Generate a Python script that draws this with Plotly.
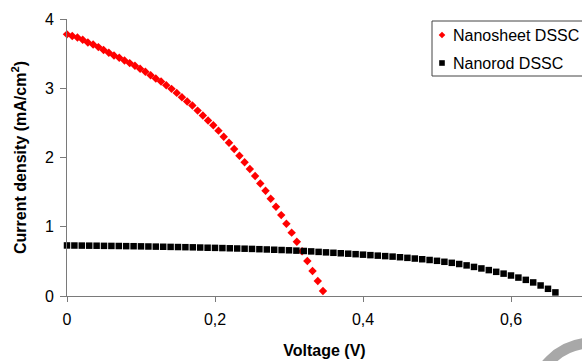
import plotly.graph_objects as go

# ---------------- data ----------------
nanosheet_voltage = [
    0.0000, 0.0071, 0.0141, 0.0212, 0.0282, 0.0353, 0.0424, 0.0494, 0.0565, 0.0635,
    0.0706, 0.0777, 0.0847, 0.0918, 0.0988, 0.1059, 0.1130, 0.1200, 0.1271, 0.1341,
    0.1412, 0.1483, 0.1553, 0.1624, 0.1694, 0.1765, 0.1836, 0.1906, 0.1977, 0.2047,
    0.2118, 0.2189, 0.2259, 0.2330, 0.2400, 0.2471, 0.2542, 0.2612, 0.2683, 0.2753,
    0.2824, 0.2895, 0.2965, 0.3036, 0.3106, 0.3177, 0.3248, 0.3318, 0.3389, 0.3459,
]
nanosheet_current = [
    3.778, 3.753, 3.734, 3.700, 3.662, 3.633, 3.594, 3.551, 3.512, 3.474,
    3.440, 3.401, 3.363, 3.324, 3.281, 3.237, 3.189, 3.141, 3.097, 3.044,
    2.991, 2.933, 2.871, 2.808, 2.750, 2.677, 2.605, 2.533, 2.466, 2.388,
    2.301, 2.214, 2.123, 2.026, 1.930, 1.834, 1.732, 1.626, 1.520, 1.404,
    1.288, 1.168, 1.044, 0.915, 0.782, 0.645, 0.505, 0.362, 0.218, 0.072,
]

nanorod_voltage = [
    0.00, 0.01, 0.02, 0.03, 0.04, 0.05, 0.06, 0.07, 0.08, 0.09,
    0.10, 0.11, 0.12, 0.13, 0.14, 0.15, 0.16, 0.17, 0.18, 0.19,
    0.20, 0.21, 0.22, 0.23, 0.24, 0.25, 0.26, 0.27, 0.28, 0.29,
    0.30, 0.31, 0.32, 0.33, 0.34, 0.35, 0.36, 0.37, 0.38, 0.39,
    0.40, 0.41, 0.42, 0.43, 0.44, 0.45, 0.46, 0.47, 0.48, 0.49,
    0.50, 0.51, 0.52, 0.53, 0.54, 0.55, 0.56, 0.57, 0.58, 0.59,
    0.60, 0.61, 0.62, 0.63, 0.64, 0.65, 0.66,
]
nanorod_current = [
    0.730, 0.729, 0.728, 0.727, 0.726, 0.724, 0.723, 0.722, 0.720, 0.719,
    0.717, 0.715, 0.713, 0.711, 0.709, 0.707, 0.705, 0.703, 0.700, 0.697,
    0.695, 0.692, 0.689, 0.686, 0.683, 0.680, 0.676, 0.672, 0.668, 0.664,
    0.660, 0.655, 0.650, 0.644, 0.637, 0.630, 0.624, 0.617, 0.611, 0.604,
    0.597, 0.590, 0.583, 0.576, 0.569, 0.560, 0.551, 0.541, 0.531, 0.520,
    0.508, 0.494, 0.479, 0.462, 0.442, 0.420, 0.398, 0.374, 0.349, 0.323,
    0.296, 0.266, 0.233, 0.196, 0.152, 0.104, 0.052,
]

series_names = ["Nanosheet DSSC", "Nanorod DSSC"]
x_tick_vals = [0, 0.2, 0.4, 0.6]
x_tick_labels = ["0", "0,2", "0,4", "0,6"]
y_tick_vals = [0, 1, 2, 3, 4]
y_tick_labels = ["0", "1", "2", "3", "4"]

# ---------------- layout constants ----------------
W, H = 582, 361
ML, MR, MT, MB = 67, 0, 19, 65
PW = W - ML - MR
PH = H - MT - MB
FONT = "Liberation Sans, Arial, sans-serif"
AXIS_GRAY = "#7a7a7a"


def px_x(px):
    return (px - ML) / PW


def px_y(py):
    return (H - MB - py) / PH


fig = go.Figure()
fig.add_trace(go.Scatter(
    x=nanosheet_voltage, y=nanosheet_current, name=series_names[0],
    mode="markers", cliponaxis=False, showlegend=False,
    marker=dict(symbol="diamond", size=6.5, color="#ff0000", line=dict(width=0)),
))
fig.add_trace(go.Scatter(
    x=nanorod_voltage, y=nanorod_current, name=series_names[1],
    mode="markers", cliponaxis=False, showlegend=False,
    marker=dict(symbol="square", size=6.5, color="#000000", line=dict(width=0)),
))

fig.update_xaxes(
    range=[0, (W - ML) / 740.0], showline=True, linecolor=AXIS_GRAY, linewidth=1,
    ticks="outside", ticklen=5, tickcolor=AXIS_GRAY, tickwidth=1,
    tickvals=x_tick_vals, ticktext=x_tick_labels,
    showgrid=False, zeroline=False, ticklabelstandoff=4,
    tickfont=dict(family=FONT, size=16, color="#000"),
    title=dict(text="<b>Voltage (V)</b>", font=dict(family=FONT, size=16, color="#000"), standoff=17),
)
fig.update_yaxes(
    range=[0, 4], showline=True, linecolor=AXIS_GRAY, linewidth=1,
    ticks="outside", ticklen=6, tickcolor=AXIS_GRAY, tickwidth=1,
    tickvals=y_tick_vals, ticktext=y_tick_labels,
    showgrid=False, zeroline=False, ticklabelstandoff=3,
    tickfont=dict(family=FONT, size=16, color="#000"),
    title=dict(text="<b>Current density (mA/cm<sup>2</sup>)</b>",
               font=dict(family=FONT, size=16, color="#000"), standoff=14),
)

# manual legend (box is cut by the right edge as in the reference)
shapes = [
    dict(type="rect", xref="paper", yref="paper",
         x0=px_x(432), x1=px_x(640), y0=px_y(76), y1=px_y(21),
         line=dict(color="#444444", width=1), fillcolor="white", layer="above"),
    dict(type="path", xref="paper", yref="paper", xsizemode="pixel", ysizemode="pixel",
         xanchor=px_x(442), yanchor=px_y(35),
         path="M 0,3.3 L 3.3,0 L 0,-3.3 L -3.3,0 Z",
         fillcolor="#ff0000", line=dict(width=0), layer="above"),
    dict(type="rect", xref="paper", yref="paper", xsizemode="pixel", ysizemode="pixel",
         xanchor=px_x(442), yanchor=px_y(63), x0=-2.8, x1=2.8, y0=-2.8, y1=2.8,
         fillcolor="#000000", line=dict(width=0), layer="above"),
    # grey watermark ring in the bottom-right corner
    dict(type="circle", xref="paper", yref="paper", xsizemode="pixel", ysizemode="pixel",
         xanchor=px_x(592), yanchor=px_y(402), x0=-59, x1=59, y0=-59, y1=59,
         line=dict(color="#a8a8a8", width=11), layer="above"),
]
annotations = [
    dict(xref="paper", yref="paper", x=px_x(451), y=px_y(35), text=series_names[0],
         showarrow=False, xanchor="left", yanchor="middle",
         font=dict(family=FONT, size=16, color="#000")),
    dict(xref="paper", yref="paper", x=px_x(451), y=px_y(63), text=series_names[1],
         showarrow=False, xanchor="left", yanchor="middle",
         font=dict(family=FONT, size=16, color="#000")),
]

fig.update_layout(
    width=W, height=H,
    margin=dict(l=ML, r=MR, t=MT, b=MB, autoexpand=False),
    paper_bgcolor="white", plot_bgcolor="white",
    showlegend=False, shapes=shapes, annotations=annotations,
    font=dict(family=FONT, size=16, color="#000"),
)

fig.write_html("out.html")
